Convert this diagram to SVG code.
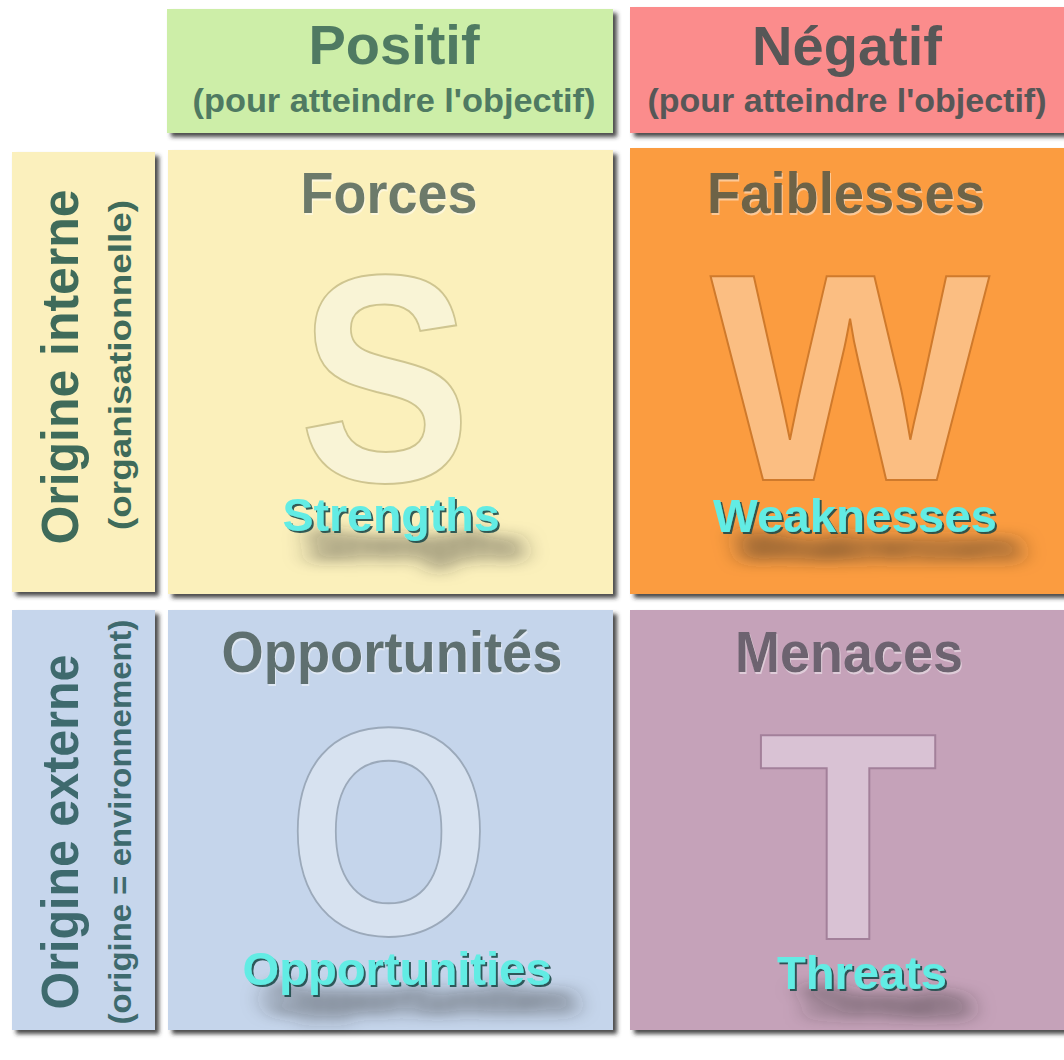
<svg xmlns="http://www.w3.org/2000/svg" width="1064" height="1060" viewBox="0 0 1064 1060">
  <defs>
    <filter id="boxShadow" x="-5%" y="-5%" width="115%" height="115%">
      <feGaussianBlur in="SourceAlpha" stdDeviation="2"/>
      <feOffset dx="4" dy="4" result="b"/>
      <feFlood flood-color="#2a2a2a" flood-opacity="0.85"/>
      <feComposite in2="b" operator="in"/>
      <feMerge><feMergeNode/><feMergeNode in="SourceGraphic"/></feMerge>
    </filter>
    <filter id="engShadow" x="-20%" y="-60%" width="160%" height="280%">
      <feGaussianBlur in="SourceAlpha" stdDeviation="12 7"/>
      <feOffset dx="24" dy="30" result="cast"/>
      <feFlood flood-color="#2a2a2a" flood-opacity="0.7"/>
      <feComposite in2="cast" operator="in" result="castC"/>
      <feOffset in="SourceAlpha" dx="2" dy="2" result="edge"/>
      <feFlood flood-color="#1d4a4a" flood-opacity="0.9"/>
      <feComposite in2="edge" operator="in" result="edgeC"/>
      <feMerge><feMergeNode in="castC"/><feMergeNode in="edgeC"/><feMergeNode in="SourceGraphic"/></feMerge>
    </filter>
    <filter id="emboss" x="-10%" y="-10%" width="120%" height="130%">
      <feOffset in="SourceAlpha" dx="1" dy="1.5" result="o"/>
      <feFlood flood-color="#ffffff" flood-opacity="0.45"/>
      <feComposite in2="o" operator="in" result="hl"/>
      <feMerge><feMergeNode in="hl"/><feMergeNode in="SourceGraphic"/></feMerge>
    </filter>
  </defs>
  <style>
    text { font-family: "Liberation Sans", Arial, sans-serif; font-weight: bold; text-anchor: middle; }
    .head { font-size: 56px; }
    .sub { font-size: 34px; }
    .title { font-size: 58px; }
    .eng { font-size: 46px; fill: #62ece4; }
    .big { font-size: 296px; font-weight: bold; stroke-width: 2; }
    .side { font-size: 52px; }
    .sidesub { font-size: 32px; }
  </style>
  <rect width="1064" height="1060" fill="#ffffff"/>

  <g id="header-positif">
    <rect x="167" y="9" width="446" height="124" fill="#cdeea8" filter="url(#boxShadow)"/>
    <text x="394" y="64" class="head" fill="#4f7a62">Positif</text>
    <text x="394" y="112" class="sub" fill="#4f7a62" textLength="403" lengthAdjust="spacingAndGlyphs">(pour atteindre l'objectif)</text>
  </g>

  <g id="header-negatif">
    <rect x="630" y="7" width="440" height="126" fill="#fb8c8c" filter="url(#boxShadow)"/>
    <text x="847" y="65" class="head" fill="#575757">Négatif</text>
    <text x="847" y="112" class="sub" fill="#575757" textLength="399" lengthAdjust="spacingAndGlyphs">(pour atteindre l'objectif)</text>
  </g>

  <g id="row-interne">
    <rect x="12" y="152" width="143" height="440" fill="#fbf0bd" filter="url(#boxShadow)"/>
    <text transform="translate(78,367) rotate(-90)" class="side" fill="#3f6b5a" textLength="355" lengthAdjust="spacingAndGlyphs">Origine interne</text>
    <text transform="translate(131,365) rotate(-90)" class="sidesub" fill="#3f6b5a" textLength="330" lengthAdjust="spacingAndGlyphs">(organisationnelle)</text>
  </g>

  <g id="row-externe">
    <rect x="12" y="610" width="143" height="420" fill="#c6d6ec" filter="url(#boxShadow)"/>
    <text transform="translate(78,832) rotate(-90)" class="side" fill="#3e6a6e" textLength="355" lengthAdjust="spacingAndGlyphs">Origine externe</text>
    <text transform="translate(131,822) rotate(-90)" class="sidesub" fill="#3e6a6e" textLength="405" lengthAdjust="spacingAndGlyphs">(origine = environnement)</text>
  </g>

  <g id="forces">
    <rect x="168" y="150" width="445" height="444" fill="#fbf0bb" filter="url(#boxShadow)"/>
    <text x="389" y="213" class="title" fill="#6c7a6b" filter="url(#emboss)" textLength="177" lengthAdjust="spacingAndGlyphs">Forces</text>
    <text x="385" y="481" class="big" fill="#f9f4d6" stroke="#cfc590" textLength="172" lengthAdjust="spacingAndGlyphs">S</text>
    <text x="391" y="531" class="eng" filter="url(#engShadow)" textLength="217" lengthAdjust="spacingAndGlyphs">Strengths</text>
  </g>

  <g id="faiblesses">
    <rect x="630" y="148" width="440" height="446" fill="#fb9c40" filter="url(#boxShadow)"/>
    <text x="846" y="213" class="title" fill="#6e6347" filter="url(#emboss)" textLength="278" lengthAdjust="spacingAndGlyphs">Faiblesses</text>
    <text x="850" y="480" class="big" fill="#fbbe82" stroke="#cf7a2c">W</text>
    <text x="855" y="532" class="eng" filter="url(#engShadow)" textLength="284" lengthAdjust="spacingAndGlyphs">Weaknesses</text>
  </g>

  <g id="opportunites">
    <rect x="168" y="610" width="445" height="420" fill="#c5d5eb" filter="url(#boxShadow)"/>
    <text x="392" y="672" class="title" fill="#5f7070" filter="url(#emboss)" textLength="341" lengthAdjust="spacingAndGlyphs">Opportunités</text>
    <text x="389" y="934" class="big" fill="#d7e2f0" stroke="#9ba9ba" textLength="204" lengthAdjust="spacingAndGlyphs">O</text>
    <text x="397" y="985" class="eng" filter="url(#engShadow)" textLength="309" lengthAdjust="spacingAndGlyphs">Opportunities</text>
  </g>

  <g id="menaces">
    <rect x="630" y="610" width="440" height="420" fill="#c5a2b9" filter="url(#boxShadow)"/>
    <text x="849" y="672" class="title" fill="#6d6370" filter="url(#emboss)" textLength="228" lengthAdjust="spacingAndGlyphs">Menaces</text>
    <text x="848" y="939" class="big" fill="#d9c2d4" stroke="#a3809a">T</text>
    <text x="862" y="989" class="eng" filter="url(#engShadow)" textLength="170" lengthAdjust="spacingAndGlyphs">Threats</text>
  </g>

  <g id="connectors"/>
</svg>
